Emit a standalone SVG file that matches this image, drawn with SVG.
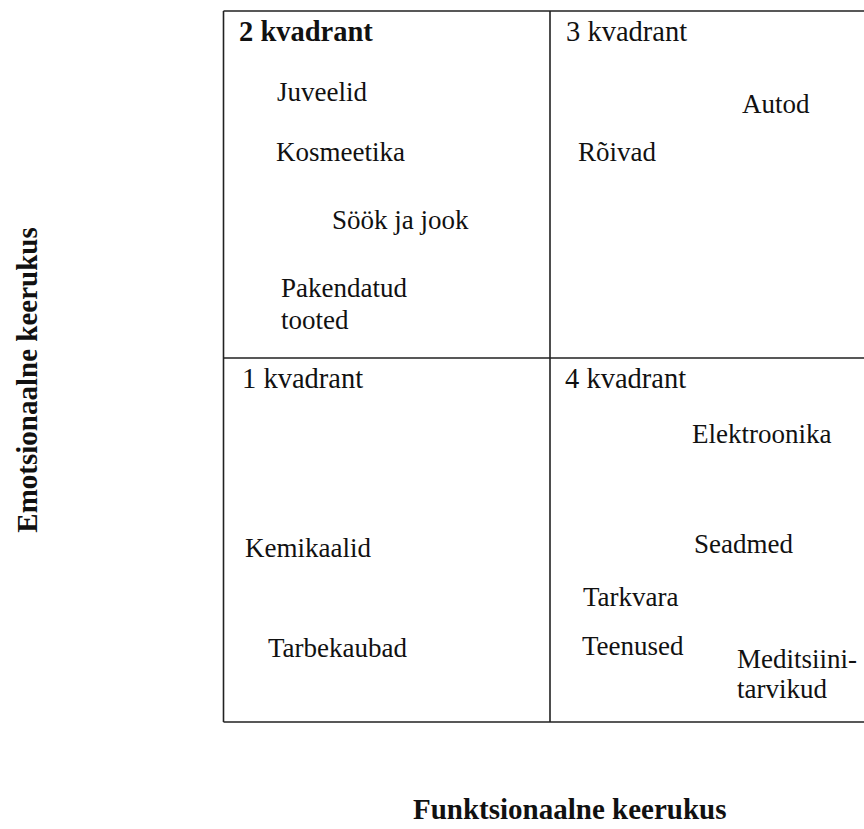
<svg xmlns="http://www.w3.org/2000/svg" width="864" height="829" viewBox="0 0 864 829">
<style>
text{font-family:"Liberation Serif","Tinos","DejaVu Serif",serif;fill:#111}
.h{font-size:28.5px}
.b{font-weight:bold}
.i{font-size:27px}
.ax{font-size:29px;font-weight:bold}
.grid{stroke:#222;stroke-width:1.6;fill:none}
</style>
<rect width="864" height="829" fill="#fff"/>
<g id="grid" class="grid">
<path d="M223.5 11 H864 M223.5 358 H864 M223.5 722 H864 M223.5 11 V722 M550 11 V722"/>
</g>
<g id="q2">
<text class="h b" x="239" y="41">2 kvadrant</text>
<text class="i" x="277" y="101">Juveelid</text>
<text class="i" x="276" y="161">Kosmeetika</text>
<text class="i" x="332" y="229">Söök ja jook</text>
<text class="i" x="281" y="297">Pakendatud</text>
<text class="i" x="281" y="329">tooted</text>
</g>
<g id="q3">
<text class="h" x="566" y="41">3 kvadrant</text>
<text class="i" x="742" y="113">Autod</text>
<text class="i" x="578" y="161">Rõivad</text>
</g>
<g id="q1">
<text class="h" x="242" y="388">1 kvadrant</text>
<text class="i" x="245" y="557">Kemikaalid</text>
<text class="i" x="268" y="657">Tarbekaubad</text>
</g>
<g id="q4">
<text class="h" x="565" y="388">4 kvadrant</text>
<text class="i" x="692" y="443">Elektroonika</text>
<text class="i" x="694" y="553">Seadmed</text>
<text class="i" x="583" y="606">Tarkvara</text>
<text class="i" x="582" y="655">Teenused</text>
<text class="i" x="737" y="668">Meditsiini-</text>
<text class="i" x="737" y="698">tarvikud</text>
</g>
<g id="axis-y">
<text class="ax" transform="translate(37 380) rotate(-90)" text-anchor="middle">Emotsionaalne keerukus</text>
</g>
<g id="axis-x">
<text class="ax" x="413" y="819">Funktsionaalne keerukus</text>
</g>
</svg>
